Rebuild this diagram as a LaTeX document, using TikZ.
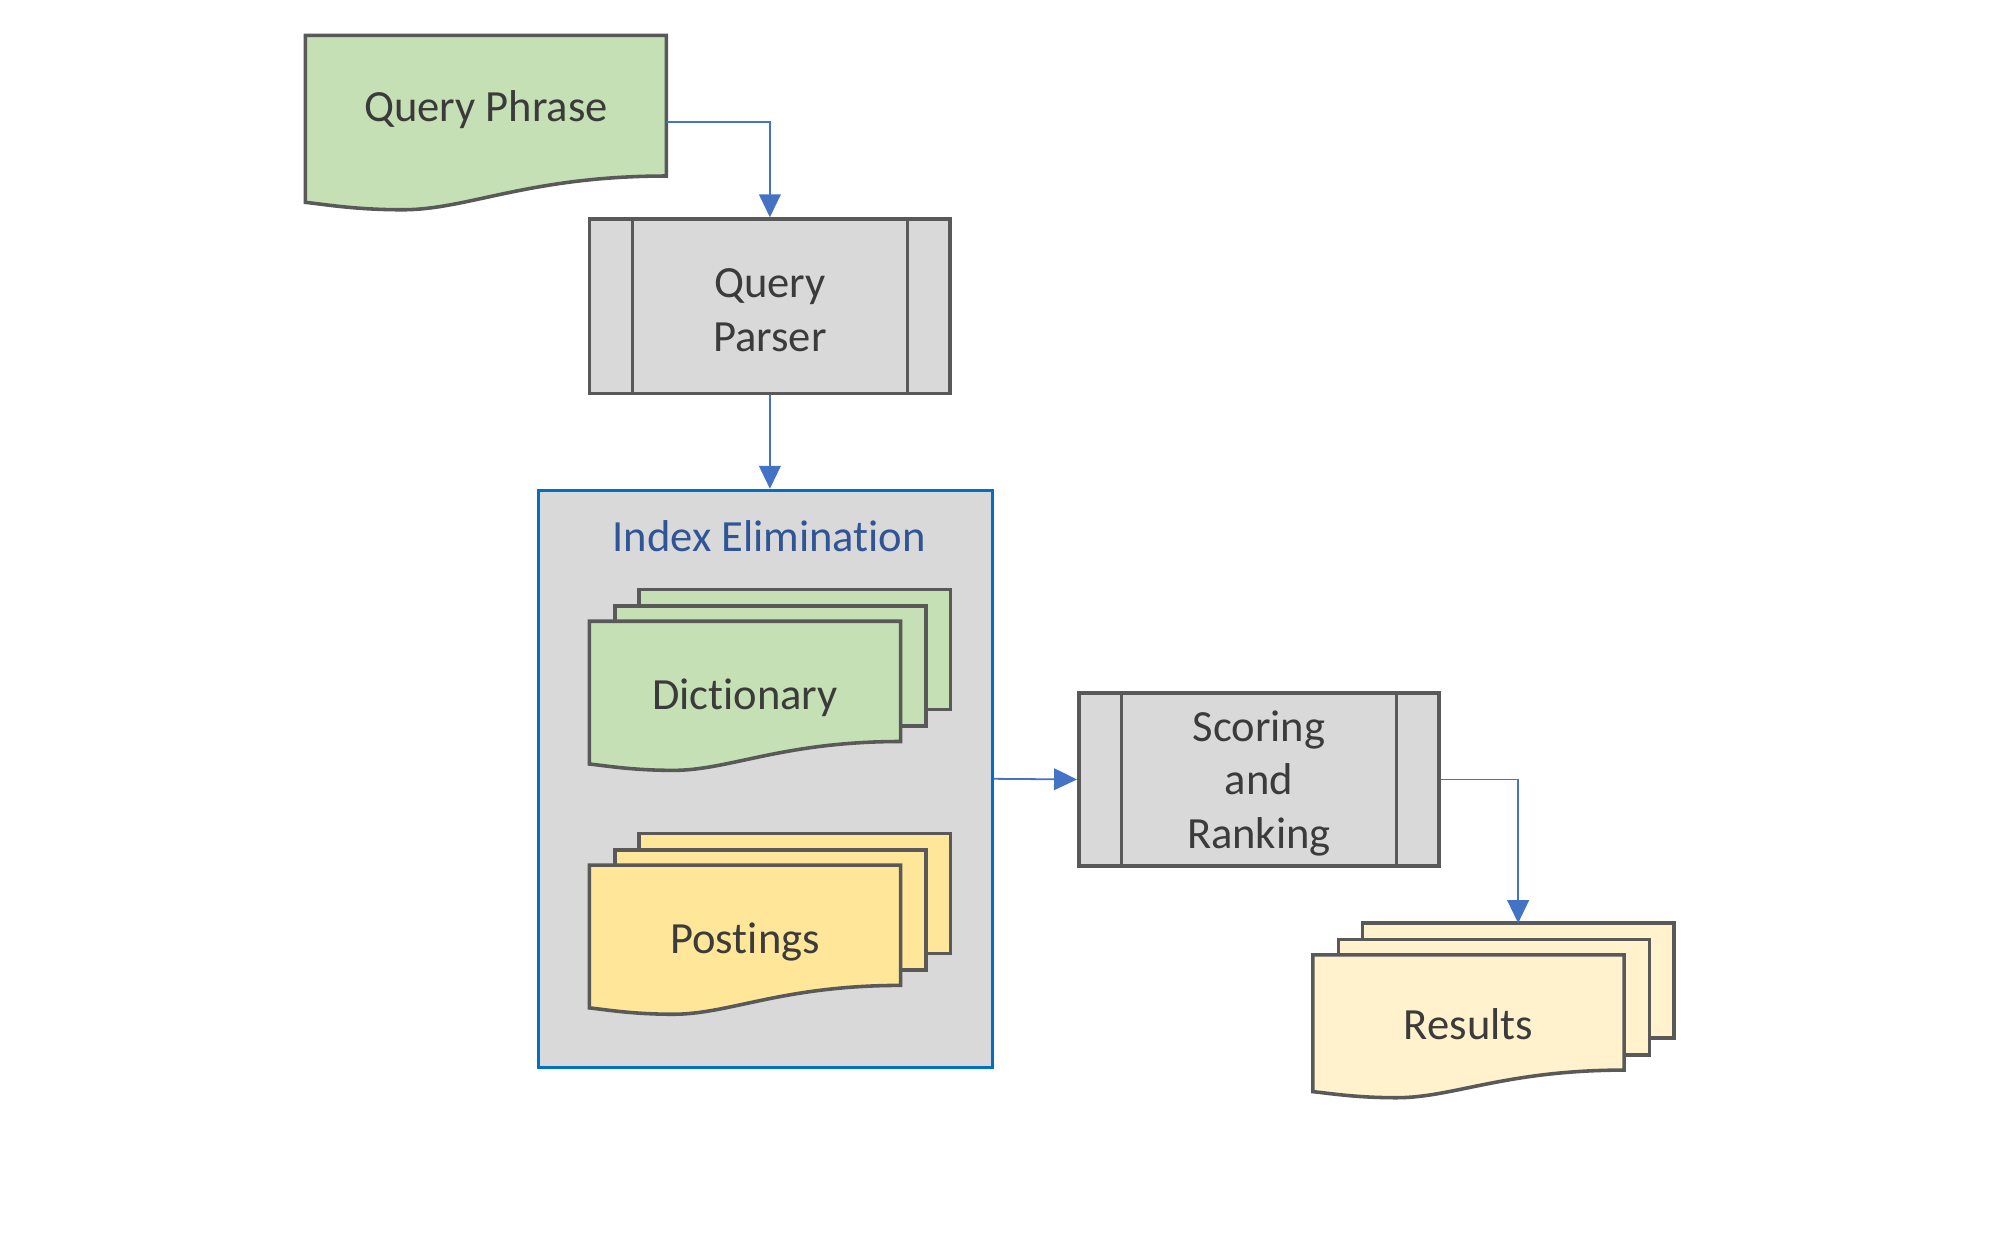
\documentclass[tikz,border=0pt]{standalone}
\usepackage{fontspec}
\setmainfont[Ligatures=NoCommon]{Carlito}
\usepackage{tikz}
\usetikzlibrary{arrows.meta}
\usetikzlibrary{positioning,shapes,calc}
\definecolor{green1}{RGB}{197, 224, 180}
\definecolor{yellow1}{RGB}{255, 230, 153}
\definecolor{yellow2}{RGB}{255, 242, 204}
\definecolor{gray1}{RGB}{217, 217, 217}
\definecolor{gray2}{RGB}{89, 89, 89}
\definecolor{text1}{RGB}{59, 59, 59}
\definecolor{blue1}{RGB}{68, 114, 196}
\definecolor{blue2}{RGB}{0, 112, 192}
\definecolor{blue3}{RGB}{47, 85, 151}
\pgfdeclarelayer{bg}
\pgfdeclarelayer{sheets}
\pgfsetlayers{bg,sheets,main}
\tikzstyle{doc_text} = [text=text1,font=\fontsize{35}{42}\selectfont,align=center]
\tikzstyle{doc_label} = [doc_text,yshift=-3pt]
\tikzstyle{sheet} = [rectangle,inner sep=0pt,minimum width=244pt,minimum height=94pt]
\tikzstyle{sheet_line} = [draw=gray2,line width=2.8pt,line join=miter]
\tikzstyle{process} = [rectangle,draw=gray2,fill=gray1,line width=2.8pt,inner sep=0pt,minimum width=283pt,minimum height=137pt]
\tikzstyle{group} = [rectangle,draw=blue2,fill=gray1,line width=2.5pt,inner sep=0pt,minimum width=356pt,minimum height=453pt]
\tikzstyle{arrow_flow} = [-{Triangle[width=17pt,length=18pt]}, draw=blue1, line width=1.4pt]
% document sheet with a wavy lower edge, drawn from the node's corners
\newcommand{\wavesheet}[2]{%
  \begin{pgfonlayer}{sheets}
  \draw[sheet_line, fill=#2] let \p1=(#1.north west), \p2=(#1.south east),
      \n1={\x2-\x1}, \n2={0.24*(\y1-\y2)} in
    (\p1) -- (\x2,\y1) -- (\p2)
    .. controls ({\x1+0.62*\n1},\y2) and ({\x1+0.45*\n1},\y2-\n2) .. ({\x1+0.27*\n1},\y2-\n2)
    .. controls ({\x1+0.14*\n1},\y2-\n2) and ({\x1+0.06*\n1},\y2-0.85*\n2) .. (\x1,\y2-0.78*\n2)
    -- cycle;
  \end{pgfonlayer}
}
% two plain sheets behind the front one
\newcommand{\stacksheets}[2]{%
  \begin{pgfonlayer}{sheets}
  \foreach \dx/\dy in {39/25,20/12} {
    \draw[sheet_line, fill=#2] ([shift={(\dx pt,\dy pt)}]#1.north west) rectangle ([shift={(\dx pt,\dy pt)}]#1.south east);
  }
  \end{pgfonlayer}
  \wavesheet{#1}{#2}
}
\begin{document}
\begin{tikzpicture}[x=1pt,y=-1pt]
    \useasboundingbox (0,0) rectangle (1568,978.3);

      % index elimination box
      \begin{pgfonlayer}{bg}
      \node[group] (elim) at (601,611.5) {};
      \end{pgfonlayer}
      \node[doc_text,text=blue3] (elimtitle) at (604,421) {Index Elimination};

      % documents
      \node[sheet,minimum width=283pt,minimum height=110pt,label={[doc_label]center:Query Phrase}] (qp) at (381.5,83) {};
      \wavesheet{qp}{green1}

      \node[sheet,label={[doc_label,yshift=-10pt]center:Dictionary}] (dict) at (585,535) {};
      \stacksheets{dict}{green1}

      \node[sheet,label={[doc_label,yshift=-10pt]center:Postings}] (post) at (585,726.5) {};
      \stacksheets{post}{yellow1}

      \node[sheet,minimum height=90pt,label={[doc_label,yshift=-6pt]center:Results}] (res) at (1153,795) {};
      \stacksheets{res}{yellow2}

      % processes
      \node[process,label={[doc_label]center:{Query\\Parser}}] (parser) at (604.5,240.5) {};
      \node[process,minimum height=136pt,label={[doc_label]center:{Scoring\\and\\Ranking}}] (scoring) at (988.5,612) {};
      \foreach \p in {parser,scoring} {
        \draw[sheet_line] ([xshift=35pt]\p.north west) -- ([xshift=35pt]\p.south west);
        \draw[sheet_line] ([xshift=-35pt]\p.north east) -- ([xshift=-35pt]\p.south east);
      }

      \coordinate (restop) at ([shift={(39pt,25pt)}]res.north);

      \draw[arrow_flow] ([yshift=-13pt]qp.east) -| (parser.north);
      \draw[arrow_flow] (parser.south) -- (parser.south |- elim.north);
      \draw[arrow_flow] (elim.east) -- (scoring.west);
      \draw[arrow_flow] (scoring.east) -| (restop);
    \end{tikzpicture}
\end{document}
